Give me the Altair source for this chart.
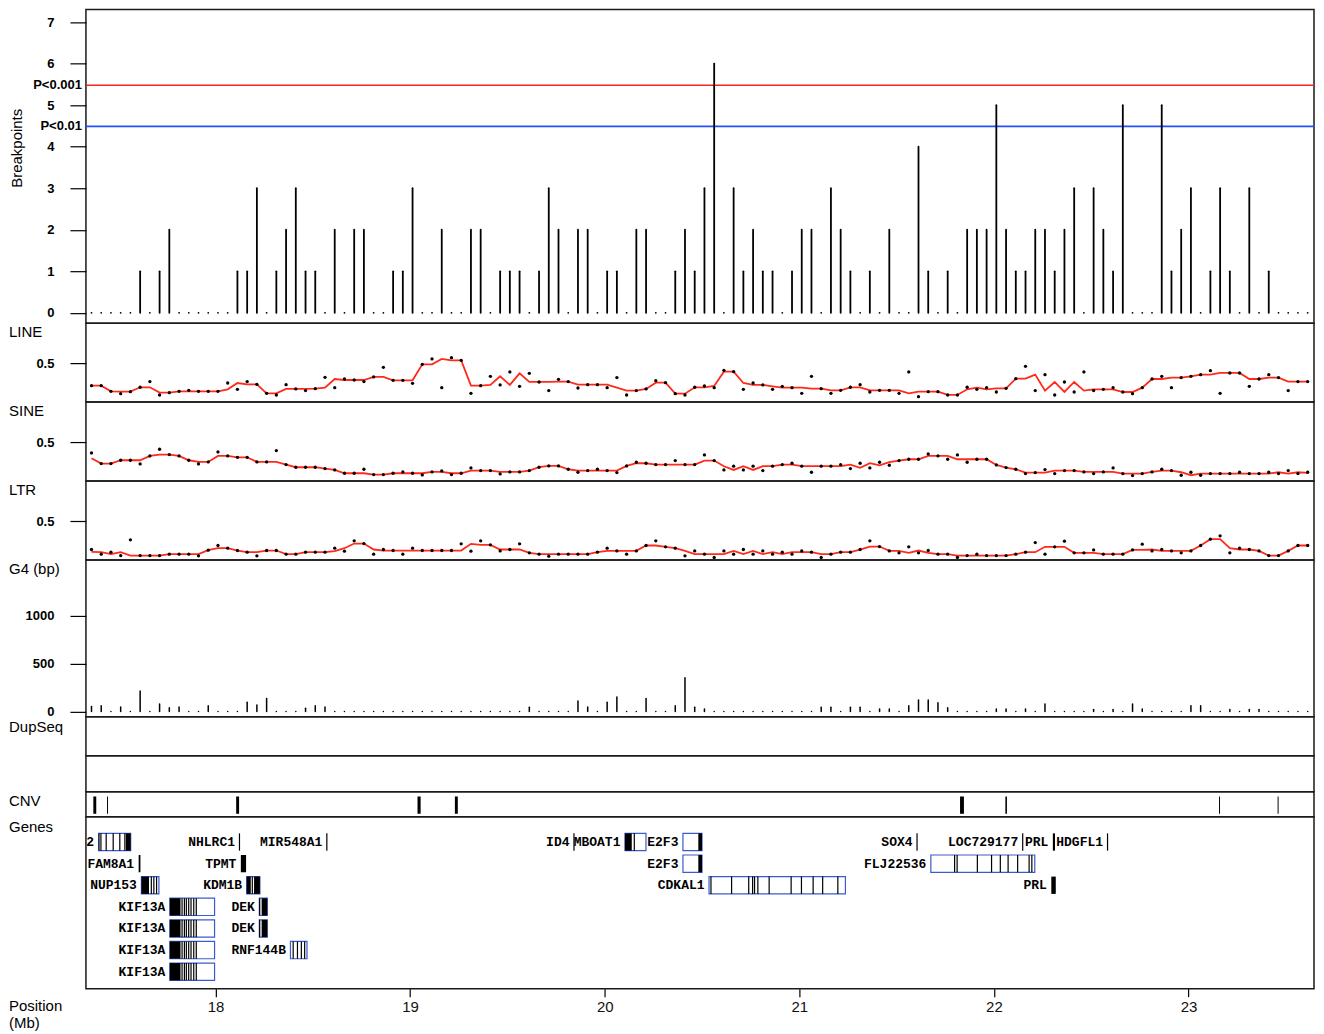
import altair as alt
import pandas as pd

# ---------------- data ----------------
# 50-kb bins along the chromosome (Mb)
BIN_START = 17.3625
BIN_STEP = 0.05

BREAKPOINTS = [0,0,0,0,0,1,0,1,2,0, 0,0,0,0,0,1,1,3,0,1, 2,3,1,1,0,2,0,2,2,0,
               0,1,1,3,0,0,2,0,0,2, 2,0,1,1,1,0,1,3,2,0, 2,2,0,1,1,0,2,2,0,0,
               1,2,1,3,6,0,3,1,2,1, 1,0,1,2,2,0,3,2,1,0, 1,0,2,0,0,4,1,0,1,0,
               2,2,2,5,2,1,1,2,2,1, 2,3,0,3,2,1,5,0,0,0, 5,1,2,3,0,1,3,1,0,3,
               0,1,0,0,0,0]

LINE = [0.192,0.192,0.114,0.082,0.110,0.170,0.248,0.064,0.096,0.114,
        0.128,0.114,0.114,0.114,0.229,0.142,0.248,0.211,0.087,0.064,
        0.206,0.147,0.124,0.151,0.307,0.165,0.284,0.270,0.248,0.312,
        0.445,0.266,0.266,0.225,0.486,0.560,0.165,0.578,0.541,0.087,
        0.192,0.321,0.202,0.381,0.183,0.362,0.243,0.124,0.280,0.248,
        0.160,0.206,0.206,0.165,0.303,0.064,0.124,0.147,0.261,0.234,
        0.082,0.064,0.170,0.188,0.165,0.404,0.385,0.142,0.229,0.202,
        0.142,0.183,0.165,0.087,0.321,0.151,0.087,0.128,0.170,0.206,
        0.105,0.128,0.128,0.087,0.381,0.041,0.110,0.110,0.064,0.064,
        0.170,0.142,0.165,0.105,0.156,0.289,0.459,0.124,0.344,0.064,
        0.243,0.105,0.381,0.124,0.142,0.165,0.105,0.082,0.165,0.284,
        0.321,0.165,0.303,0.321,0.344,0.399,0.087,0.367,0.367,0.183,
        0.284,0.344,0.303,0.124,0.248,0.248]

SINE = [0.353,0.206,0.206,0.252,0.252,0.202,0.312,0.404,0.330,0.312,
        0.252,0.202,0.229,0.367,0.312,0.293,0.293,0.229,0.229,0.385,
        0.192,0.156,0.156,0.156,0.137,0.119,0.073,0.073,0.128,0.055,
        0.055,0.073,0.091,0.073,0.050,0.091,0.105,0.055,0.073,0.147,
        0.110,0.110,0.064,0.091,0.091,0.110,0.156,0.174,0.174,0.128,
        0.087,0.110,0.128,0.110,0.082,0.174,0.225,0.211,0.192,0.192,
        0.248,0.192,0.192,0.326,0.248,0.119,0.170,0.119,0.170,0.110,
        0.170,0.192,0.211,0.170,0.087,0.170,0.170,0.192,0.137,0.211,
        0.147,0.225,0.183,0.248,0.266,0.266,0.339,0.312,0.266,0.326,
        0.225,0.266,0.266,0.188,0.151,0.128,0.069,0.082,0.124,0.069,
        0.110,0.110,0.091,0.069,0.091,0.147,0.069,0.041,0.069,0.091,
        0.128,0.110,0.046,0.087,0.046,0.069,0.069,0.069,0.087,0.069,
        0.069,0.087,0.069,0.110,0.069,0.087]

LTR = [0.110,0.046,0.073,0.027,0.243,0.027,0.027,0.027,0.046,0.046,
       0.046,0.023,0.101,0.165,0.128,0.096,0.073,0.023,0.096,0.096,
       0.046,0.046,0.073,0.073,0.073,0.128,0.087,0.229,0.192,0.046,
       0.110,0.096,0.046,0.128,0.096,0.096,0.096,0.096,0.188,0.087,
       0.229,0.174,0.091,0.110,0.188,0.064,0.046,0.018,0.046,0.046,
       0.046,0.046,0.073,0.128,0.091,0.046,0.091,0.165,0.229,0.147,
       0.128,0.023,0.091,0.046,0.000,0.091,0.046,0.110,0.046,0.091,
       0.046,0.073,0.046,0.091,0.073,0.000,0.046,0.073,0.073,0.110,
       0.229,0.151,0.091,0.064,0.147,0.064,0.096,0.046,0.046,0.000,
       0.027,0.046,0.027,0.027,0.027,0.046,0.073,0.206,0.046,0.147,
       0.225,0.064,0.064,0.105,0.046,0.046,0.046,0.105,0.183,0.091,
       0.110,0.091,0.064,0.091,0.165,0.252,0.298,0.064,0.128,0.110,
       0.091,0.027,0.027,0.091,0.165,0.165]

G4 = [52,62,0,48,0,214,0,79,41,48, 0,0,62,0,0,0,97,69,138,0,
      0,0,34,62,48,0,0,0,0,0, 0,0,0,0,0,0,0,0,0,0,
      0,0,0,0,0,45,0,0,0,0, 110,48,0,97,152,0,0,138,0,0,
      62,355,45,28,0,0,0,0,0,0, 0,0,0,0,0,45,45,0,45,45,
      0,28,28,0,62,121,121,93,41,0, 0,0,0,28,28,0,28,0,79,0,
      0,0,0,21,0,21,0,79,28,0, 0,0,0,62,62,0,0,21,0,21,
      21,0,0,0,0,0]

THRESH_VALUES = [5.48, 4.49]
THRESH_LABELS = ["P<0.001", "P<0.01"]
THRESH_COLORS = ["#ff2020", "#2050ff"]

CNV_START = [17.372, 17.4425, 18.106, 19.038, 19.230, 21.826, 22.059, 23.157, 23.458]
CNV_END   = [17.387, 17.4475, 18.121, 19.054, 19.245, 21.846, 22.067, 23.162, 23.463]

GENE_NAMES = ["2", "NHLRC1", "MIR548A1", "ID4", "MBOAT1", "E2F3", "SOX4", "LOC729177", "PRL", "HDGFL1",
              "FAM8A1", "TPMT", "E2F3", "FLJ22536",
              "NUP153", "KDM1B", "CDKAL1", "PRL",
              "KIF13A", "DEK", "KIF13A", "DEK", "KIF13A", "RNF144B", "KIF13A"]
GENE_ROWS = [1,1,1,1,1,1,1,1,1,1, 2,2,2,2, 3,3,3,3, 4,4,5,5,6,6,7]
GENE_STARTS = [17.399, 18.123, 18.572, 19.842, 20.104, 20.402, 21.605, 22.148, 22.303, 22.584,
               17.605, 18.130, 20.402, 21.676,
               17.619, 18.160, 20.536, 22.295,
               17.765, 18.225, 17.765, 18.225, 17.765, 18.385, 17.765]

BOX_ROWS   = [1, 1, 1, 2, 2, 3, 3, 3, 4, 4, 5, 5, 6, 6, 7]
BOX_STARTS = [17.399, 20.104, 20.402, 20.402, 21.676, 17.619, 18.160, 20.536,
              17.765, 18.225, 17.765, 18.225, 17.765, 18.385, 17.765]
BOX_ENDS   = [17.564, 20.212, 20.500, 20.500, 22.210, 17.709, 18.228, 21.237,
              17.995, 18.266, 17.995, 18.266, 17.995, 18.470, 17.995]

BLOCK_ROWS   = [1, 1, 1, 1, 1, 2, 2, 2, 3, 3, 3, 3, 4, 4, 5, 5, 6, 7]
BLOCK_STARTS = [17.399, 17.539, 20.104, 20.481, 22.303, 17.605, 18.130, 20.481,
                17.619, 18.160, 18.198, 22.295, 17.765, 18.237, 17.765, 18.237, 17.765, 17.765]
BLOCK_ENDS   = [17.404, 17.564, 20.139, 20.500, 22.314, 17.614, 18.157, 20.500,
                17.658, 18.181, 18.228, 22.318, 17.820, 18.266, 17.820, 18.266, 17.820, 17.820]

EXON_ROWS = ([1]*12 + [2]*9 + [3]*16 + [4]*8 + [5]*8 + [6]*11 + [7]*7)
EXON_POS = (
    [17.411, 17.438, 17.474, 17.508, 17.534, 18.123, 18.572, 19.842, 20.152, 21.605, 22.148, 22.584]
    + [21.798, 21.811, 21.915, 21.988, 22.033, 22.073, 22.122, 22.181, 22.195]
    + [17.670, 17.683, 17.697, 18.189, 20.546, 20.652, 20.740, 20.760, 20.770, 20.787,
       20.845, 20.958, 21.011, 21.071, 21.120, 21.198]
    + [17.828, 17.840, 17.850, 17.862, 17.874, 17.888, 17.901, 18.227]
    + [17.828, 17.840, 17.850, 17.862, 17.874, 17.888, 17.901, 18.227]
    + [17.828, 17.840, 17.850, 17.862, 17.874, 17.888, 17.901, 18.399, 18.421, 18.441, 18.458]
    + [17.828, 17.840, 17.850, 17.862, 17.874, 17.888, 17.901]
)

X_TICKS = [18, 19, 20, 21, 22, 23]

# ---------------- chart ----------------
W = 1229
FONT = "Liberation Sans"
MONO = "Liberation Mono"
XS = alt.Scale(domain=[17.334, 23.645], nice=False, zero=False)

positions = [round(BIN_START + BIN_STEP * i, 4) for i in range(len(BREAKPOINTS))]
bins = pd.DataFrame({"pos": positions, "bp": BREAKPOINTS, "line": LINE,
                     "sine": SINE, "ltr": LTR, "g4": G4})


def yaxis(values, fmt):
    return alt.Axis(values=values, format=fmt, title=None, grid=False, domain=False,
                    tickSize=16, tickColor="black", tickWidth=1.2, labelPadding=16,
                    labelFont=FONT, labelFontSize=13, labelFontWeight="bold",
                    labelColor="black")


def label(text, y, x=-77, **kw):
    return alt.Chart(pd.DataFrame({"t": [text]})).mark_text(
        align="left", baseline="middle", font=FONT, fontSize=15, color="black", **kw
    ).encode(x=alt.value(x), y=alt.value(y), text="t:N")


X_NOAXIS = alt.X("pos:Q", scale=XS, axis=None)

# Panel 1: breakpoints
BP_Y = alt.Scale(domain=[-0.248, 7.305], nice=False, zero=False)
bp_ax = yaxis(list(range(8)), "d")
bp_rules = alt.Chart(bins).mark_rule(strokeWidth=1.8, strokeCap="round", color="black").encode(
    x=X_NOAXIS, y=alt.Y("bp:Q", scale=BP_Y, axis=bp_ax), y2=alt.datum(0))
thr = pd.DataFrame({"v": THRESH_VALUES, "lab": THRESH_LABELS, "col": THRESH_COLORS})
thr_rule = alt.Chart(thr).mark_rule(strokeWidth=1.6).encode(
    y=alt.Y("v:Q", scale=BP_Y, axis=bp_ax), color=alt.Color("col:N", scale=None))
thr_text = alt.Chart(thr).mark_text(align="right", baseline="middle", font=FONT,
                                    fontSize=13, fontWeight="bold", color="black").encode(
    x=alt.value(-4), y=alt.Y("v:Q", scale=BP_Y, axis=bp_ax), text="lab:N")
bp_title = alt.Chart(pd.DataFrame({"t": ["Breakpoints"]})).mark_text(
    angle=270, align="center", baseline="middle", font=FONT, fontSize=15, color="black"
).encode(x=alt.value(-68.5), y=alt.value(139), text="t:N")
p1 = alt.layer(thr_rule, bp_rules, thr_text, bp_title).properties(width=W, height=314)


def repeat_panel(field, name):
    ys = alt.Scale(domain=[-0.034, 1.053], nice=False, zero=False)
    ax = yaxis([0.5], ".1f")
    base = alt.Chart(bins)
    smooth = base.transform_window(
        window=[alt.WindowFieldDef(op="median", field=field, **{"as": "med"})],
        frame=[-1, 1], sort=[alt.SortField(field="pos")]
    ).mark_line(color="#ff2a1a", strokeWidth=1.8).encode(
        x=X_NOAXIS, y=alt.Y("med:Q", scale=ys, axis=ax))
    pts = base.mark_circle(size=11, color="black", opacity=1).encode(
        x=X_NOAXIS, y=alt.Y(f"{field}:Q", scale=ys, axis=ax))
    return alt.layer(smooth, pts, label(name, 9)).properties(width=W, height=79)


p2 = repeat_panel("line", "LINE")
p3 = repeat_panel("sine", "SINE")
p4 = repeat_panel("ltr", "LTR")

# Panel 5: G4
G4_Y = alt.Scale(domain=[-55, 1585], nice=False, zero=False)
g4_rules = alt.Chart(bins).mark_rule(strokeWidth=1.5, strokeCap="round", color="black").encode(
    x=X_NOAXIS, y=alt.Y("g4:Q", scale=G4_Y, axis=yaxis([0, 500, 1000], "d")), y2=alt.datum(0))
p5 = alt.layer(g4_rules, label("G4 (bp)", 9)).properties(width=W, height=157)

# Panels 6, 7: DupSeq (empty)
p6 = label("DupSeq", 10).properties(width=W, height=39)
p7 = label("", 5).properties(width=W, height=36)

# Panel 8: CNV
cnv = pd.DataFrame({"s": CNV_START, "e": CNV_END})
cnv_rect = alt.Chart(cnv).mark_rect(color="black").encode(
    x=alt.X("s:Q", scale=XS, axis=None), x2="e:Q", y=alt.value(4.7), y2=alt.value(22))
p8 = alt.layer(cnv_rect, label("CNV", 9.7)).properties(width=W, height=25)

# Panel 9: genes
G_Y = alt.Scale(domain=[-0.1675, 7.783], reverse=True, nice=False, zero=False)
xax = alt.Axis(values=X_TICKS, format="d", title=None, grid=False, domain=False,
               tickSize=8, tickColor="black", tickWidth=1.2, labelFont=FONT,
               labelFontSize=15, labelColor="#111", labelPadding=3, orient="bottom")
box_df = pd.DataFrame({"row": BOX_ROWS, "s": BOX_STARTS, "e": BOX_ENDS})
blk_df = pd.DataFrame({"row": BLOCK_ROWS, "s": BLOCK_STARTS, "e": BLOCK_ENDS})
exon_df = pd.DataFrame({"row": EXON_ROWS, "p": EXON_POS})
name_df = pd.DataFrame({"row": GENE_ROWS, "p": GENE_STARTS, "name": GENE_NAMES})


def span(c):
    return c.transform_calculate(lo="datum.row - 0.4", hi="datum.row + 0.4")


boxes = span(alt.Chart(box_df)).mark_rect(fill="white", stroke="#3a5bd0", strokeWidth=1.2).encode(
    x=alt.X("s:Q", scale=XS, axis=xax), x2="e:Q",
    y=alt.Y("lo:Q", scale=G_Y, axis=None), y2="hi:Q")
blocks = span(alt.Chart(blk_df)).mark_rect(fill="black").encode(
    x=alt.X("s:Q", scale=XS, axis=xax), x2="e:Q",
    y=alt.Y("lo:Q", scale=G_Y, axis=None), y2="hi:Q")
exons = span(alt.Chart(exon_df)).mark_rule(color="black", strokeWidth=1.2).encode(
    x=alt.X("p:Q", scale=XS, axis=xax),
    y=alt.Y("lo:Q", scale=G_Y, axis=None), y2="hi:Q")
names = alt.Chart(name_df).mark_text(align="right", baseline="middle", dx=-4.5, font=MONO,
                                     fontWeight="bold", fontSize=13, color="black").encode(
    x=alt.X("p:Q", scale=XS, axis=xax), y=alt.Y("row:Q", scale=G_Y, axis=None), text="name:N")
p9 = alt.layer(boxes, blocks, exons, names, label("Genes", 10),
               label("Position", 189), label("(Mb)", 206)).properties(width=W, height=172)

chart = alt.vconcat(p1, p2, p3, p4, p5, p6, p7, p8, p9, spacing=0, bounds="flush").resolve_scale(
    x="independent", y="independent"
).properties(
    padding={"top": 0, "left": 0, "right": 0, "bottom": 2}, background="white"
).configure_view(stroke="#1a1a1a", strokeWidth=1.5)

chart.save("out.html", embed_options={"renderer": "svg", "actions": False})
